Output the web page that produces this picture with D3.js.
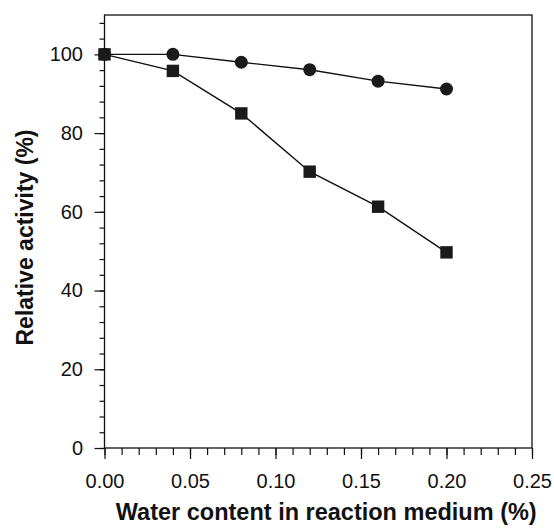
<!DOCTYPE html>
<html>
<head>
<meta charset="utf-8">
<script src="https://cdn.jsdelivr.net/npm/d3@7"></script>
<style>
  body { margin: 0; background: #fff; }
  text { font-family: "Liberation Sans", Arial, sans-serif; fill: #111; }
</style>
</head>
<body>
<div id="chart"></div>
<script>
// water content (%) and relative activity (%)
var waterContent = [0.00, 0.04, 0.08, 0.12, 0.16, 0.20];
var circleSeries = [100, 100, 98, 96.1, 93.2, 91.2];
var squareSeries = [100, 95.8, 85, 70.2, 61.3, 49.7];

var xTicks = [0.00, 0.05, 0.10, 0.15, 0.20, 0.25];
var yTicks = [0, 20, 40, 60, 80, 100];

var margin = {top: 15, right: 22, bottom: 84, left: 104.5},
    width = 554 - margin.left - margin.right,
    height = 532 - margin.top - margin.bottom;

var svg = d3.select("#chart")
    .append("svg")
    .attr("width", 554)
    .attr("height", 532)
    .append("g")
    .attr("transform", "translate(" + margin.left + "," + margin.top + ")");

var x = d3.scaleLinear().domain([0, 0.25]).range([0, width]);
var y = d3.scaleLinear().domain([0, 110]).range([height, 0]);

// box
svg.append("rect")
    .attr("width", width)
    .attr("height", height)
    .attr("fill", "none")
    .attr("stroke", "#111")
    .attr("stroke-width", 1.3);

// x axis, minor ticks every 0.01
svg.append("g")
    .attr("transform", "translate(0," + height + ")")
    .call(d3.axisBottom(x).tickValues(d3.range(0, 0.2501, 0.01)).tickSize(7).tickFormat(""))
    .call(function(g) { g.select(".domain").remove(); });

var xAxis = svg.append("g")
    .attr("transform", "translate(0," + height + ")")
    .call(d3.axisBottom(x).tickValues(xTicks).tickSize(11).tickPadding(15).tickFormat(d3.format(".2f")));
xAxis.select(".domain").remove();
xAxis.selectAll("text").style("font-size", "20px");

// y axis, minor ticks every 4
svg.append("g")
    .call(d3.axisLeft(y).tickValues(d3.range(0, 109, 4)).tickSize(5).tickFormat(""))
    .call(function(g) { g.select(".domain").remove(); });

var yAxis = svg.append("g")
    .call(d3.axisLeft(y).tickValues(yTicks).tickSize(10).tickPadding(11.5));
yAxis.select(".domain").remove();
yAxis.selectAll("text").style("font-size", "20px");

svg.selectAll(".tick line").attr("stroke", "#111").attr("stroke-width", 1.2);

// lines
var circlePts = waterContent.map(function(d, i) { return [d, circleSeries[i]]; });
var squarePts = waterContent.map(function(d, i) { return [d, squareSeries[i]]; });

var line = d3.line()
    .x(function(d) { return x(d[0]); })
    .y(function(d) { return y(d[1]); });

svg.append("path").datum(circlePts)
    .attr("d", line).attr("fill", "none").attr("stroke", "#111").attr("stroke-width", 1.4);
svg.append("path").datum(squarePts)
    .attr("d", line).attr("fill", "none").attr("stroke", "#111").attr("stroke-width", 1.4);

svg.selectAll(".circ")
    .data(circlePts)
    .enter()
    .append("circle")
    .attr("cx", function(d) { return x(d[0]); })
    .attr("cy", function(d) { return y(d[1]); })
    .attr("r", 6.5)
    .attr("fill", "#1a1a1a");

svg.selectAll(".sq")
    .data(squarePts)
    .enter()
    .append("rect")
    .attr("x", function(d) { return x(d[0]) - 6.2; })
    .attr("y", function(d) { return y(d[1]) - 6.2; })
    .attr("width", 12.4)
    .attr("height", 12.4)
    .attr("fill", "#1a1a1a");

// axis titles
svg.append("text")
    .attr("x", width / 2 + 8)
    .attr("y", height + 72)
    .attr("text-anchor", "middle")
    .style("font-size", "23.5px")
    .style("font-weight", "bold")
    .text("Water content in reaction medium (%)");

svg.append("text")
    .attr("transform", "rotate(-90)")
    .attr("x", -(height / 2) - 6)
    .attr("y", -72)
    .attr("text-anchor", "middle")
    .style("font-size", "23px")
    .style("font-weight", "bold")
    .text("Relative activity (%)");
</script>
</body>
</html>
